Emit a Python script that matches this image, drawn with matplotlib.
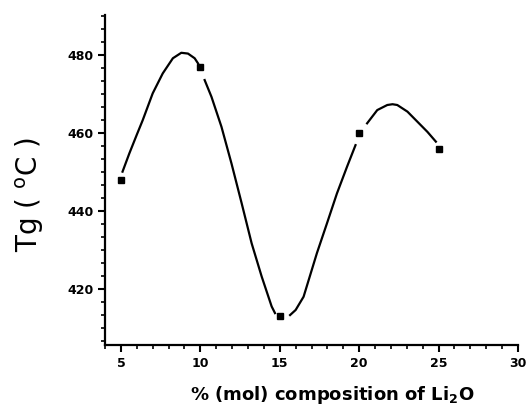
import matplotlib
matplotlib.use('Agg')
import matplotlib.pyplot as plt
from matplotlib.ticker import MultipleLocator

matplotlib.rcParams['font.family'] = ['DejaVu Sans']

# measured points
comp = [5, 10, 15, 20, 25]
tg = [448, 477, 413, 460, 456]

# smooth curve, broken near each marker
seg1_x = [5.1, 5.53, 6.0, 6.37, 7.0, 7.63, 8.27, 8.8, 9.22, 9.64, 9.85]
seg1_y = [450.1, 454.8, 459.6, 463.3, 470.2, 475.3, 479.2, 480.6, 480.4, 479.2, 477.9]
seg2_x = [10.27, 10.7, 11.33, 11.96, 12.6, 13.23, 13.86, 14.49, 14.7]
seg2_y = [473.6, 469.3, 461.6, 452.2, 442.0, 431.7, 423.2, 415.5, 413.8]
seg3_x = [15.65, 16.0, 16.5, 17.34, 17.97, 18.6, 19.24, 19.77]
seg3_y = [413.3, 414.6, 418.0, 429.2, 436.8, 444.5, 451.4, 456.9]
seg4_x = [20.5, 21.14, 21.77, 22.1, 22.4, 23.04, 23.67, 24.3, 24.83]
seg4_y = [462.5, 465.9, 467.2, 467.4, 467.2, 465.5, 462.9, 460.3, 457.8]

fig = plt.figure(figsize=(5.28, 4.05), dpi=100)
ax = fig.add_axes([0.199, 0.148, 0.782, 0.815])

for sx, sy in [(seg1_x, seg1_y), (seg2_x, seg2_y), (seg3_x, seg3_y), (seg4_x, seg4_y)]:
    ax.plot(sx, sy, color='black', lw=1.6, solid_joinstyle='round')
ax.plot(comp, tg, 's', color='black', ms=4.5, ls='none')

ax.set_xlim(4, 30)
ax.set_ylim(405.6, 490.3)
ax.xaxis.set_major_locator(MultipleLocator(5))
ax.xaxis.set_minor_locator(MultipleLocator(1))
ax.yaxis.set_major_locator(MultipleLocator(20))
ax.yaxis.set_minor_locator(MultipleLocator(20 / 6))

for s in ['top', 'right']:
    ax.spines[s].set_visible(False)
for s in ['left', 'bottom']:
    ax.spines[s].set_linewidth(1.6)

ax.tick_params(which='major', direction='out', length=5, width=1.5, labelsize=9)
ax.tick_params(which='minor', direction='out', length=3, width=1.2)
for lab in ax.get_xticklabels() + ax.get_yticklabels():
    lab.set_fontweight('bold')

ax.set_xlabel('% (mol) composition of Li$_\\mathbf{2}$O', fontsize=13, fontweight='bold')
ax.xaxis.set_label_coords(0.55, -0.118)
ax.set_ylabel('Tg ( $^{\\mathrm{o}}$C )', fontsize=20)
ax.yaxis.set_label_coords(-0.142, 0.455)

fig.savefig('out.png', dpi=100)
